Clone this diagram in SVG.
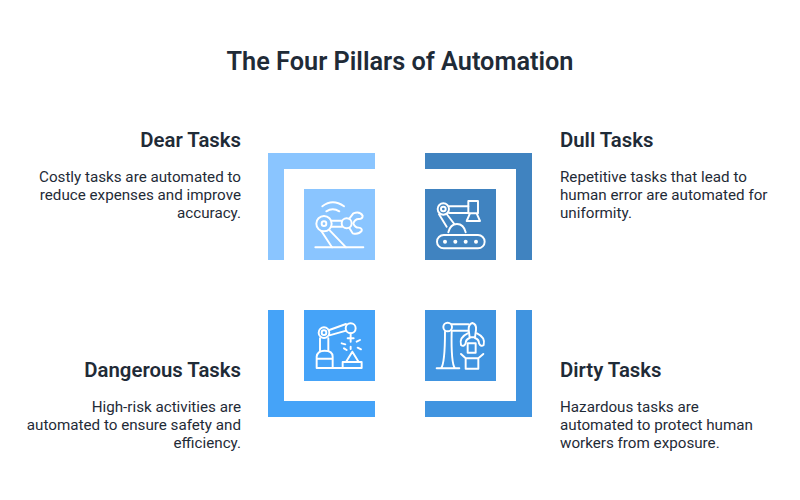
<svg xmlns="http://www.w3.org/2000/svg" width="800" height="500" viewBox="0 0 800 500">
<style>
text{font-family:Roboto,"Liberation Sans",sans-serif;fill:#1f2b37}
.t{font-size:25.3px;font-weight:600;text-anchor:middle}
.h{font-size:20.35px;font-weight:600}
.b{font-size:15.2px;font-weight:400}
.e{text-anchor:end}
.i{fill:none;stroke:#fff;stroke-width:5.8;stroke-linecap:round;stroke-linejoin:round}
.d{fill:#fff;stroke:none}
</style>
<rect width="800" height="500" fill="#fff"/>
<text class="t" x="400" y="70">The Four Pillars of Automation</text>
<g id="dear">
<path d="M268 153H375V169H284V260H268Z" fill="#8AC5FF"/>
<rect x="304" y="189" width="71" height="71" fill="#8AC5FF"/>
<g class="i" transform="translate(260 145) scale(.3333)">
<path d="M187 184Q218 160 252 184M199 199Q218 187 238 199M166 307H310"/>
<circle cx="192" cy="236" r="23"/><circle cx="192" cy="236" r="7"/>
<path d="M215 227H246M215 245H246"/><circle cx="260" cy="235" r="15"/>
<path d="M268 221L280 205Q300 198 308 212Q308 222 296 222Q285 222 280 235Q285 248 296 248Q308 250 305 258Q295 270 278 265L268 249"/>
<path d="M184 258L216 307M207 254L258 307"/>
</g>
<text class="h e" x="241" y="147">Dear Tasks</text>
<text class="b e" x="241" y="182">Costly tasks are automated to</text>
<text class="b e" x="241" y="200">reduce expenses and improve</text>
<text class="b e" x="241" y="218">accuracy.</text>
</g>
<g id="dull">
<path d="M425 153H532V260H516V169H425Z" fill="#4083C0"/>
<rect x="425" y="189" width="71" height="71" fill="#4083C0"/>
<g class="i" transform="translate(415 145) scale(.3333)">
<rect x="66" y="270" width="143" height="40" rx="20"/>
<circle class="d" cx="90" cy="290" r="6"/><circle class="d" cx="121" cy="290" r="6"/><circle class="d" cx="152" cy="290" r="6"/><circle class="d" cx="183" cy="290" r="6"/>
<path d="M100 262Q106 237 126 237Q146 237 152 262"/>
<circle cx="85" cy="192" r="17"/><circle cx="85" cy="192" r="7"/>
<path d="M102 184H160M102 204H160M72 208L95 245M95 207L118 237"/>
<path d="M160 168H189V205H160ZM165 205L155 228H195L185 205"/>
</g>
<text class="h" x="560" y="147">Dull Tasks</text>
<text class="b" x="560" y="182">Repetitive tasks that lead to</text>
<text class="b" x="560" y="200">human error are automated for</text>
<text class="b" x="560" y="218">uniformity.</text>
</g>
<g id="dangerous">
<path d="M268 310H284V401H375V417H268Z" fill="#45A3F8"/>
<rect x="304" y="310" width="71" height="71" fill="#45A3F8"/>
<g class="i" transform="translate(260 300) scale(.3333)">
<circle cx="192" cy="98" r="16"/><circle cx="192" cy="98" r="7"/><circle cx="272" cy="85" r="15"/>
<path d="M208 90L258 72M208 106L259 92M180 115V152M205 115V152"/>
<path d="M170 204V170Q172 152 194 152Q218 152 218 170V204ZM170 176H218M218 204H248"/>
<path d="M248 186H305V204H248ZM258 186L277 155L296 186"/>
<path d="M272 100V125M263 115H281M245 130L256 133M252 145L260 150M290 125L300 120M293 143L303 148M272 140V147"/>
</g>
<text class="h e" x="241" y="377">Dangerous Tasks</text>
<text class="b e" x="241" y="412">High-risk activities are</text>
<text class="b e" x="241" y="430">automated to ensure safety and</text>
<text class="b e" x="241" y="448">efficiency.</text>
</g>
<g id="dirty">
<path d="M516 310H532V417H425V401H516Z" fill="#4094E0"/>
<rect x="425" y="310" width="71" height="71" fill="#4094E0"/>
<g class="i" transform="translate(415 300) scale(.3333)">
<path d="M65 205H133M78 205Q90 190 90 95M120 205Q108 190 110 95"/>
<circle cx="98" cy="81" r="13"/>
<path d="M110 73H160M110 92H160"/>
<path d="M172 69Q185 72 183 90L180 112H164L161 90Q160 72 172 69Z"/>
<path d="M158 100Q132 112 138 135Q146 142 152 130Q152 118 164 114M186 100Q212 112 206 135Q198 142 192 130Q192 118 180 114"/>
<rect x="158" y="130" width="24" height="28"/>
<path d="M138 162L152 175H190L205 162M152 175V206H190V175"/>
</g>
<text class="h" x="560" y="377">Dirty Tasks</text>
<text class="b" x="560" y="412">Hazardous tasks are</text>
<text class="b" x="560" y="430">automated to protect human</text>
<text class="b" x="560" y="448">workers from exposure.</text>
</g>
</svg>
